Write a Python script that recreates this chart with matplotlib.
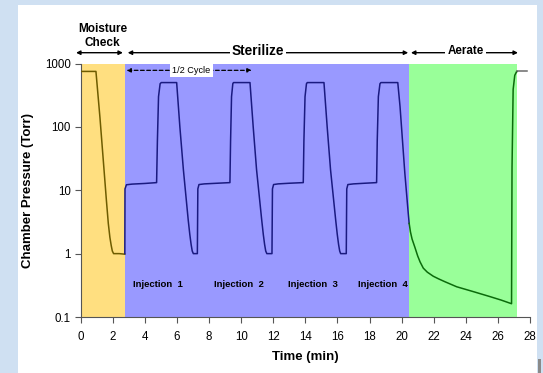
import matplotlib
matplotlib.use("Agg")
import matplotlib.pyplot as plt
from matplotlib.patches import Rectangle
from matplotlib.transforms import blended_transform_factory

plt.rcParams["font.family"] = ["Liberation Sans", "DejaVu Sans"]

moist_t = [0.0, 0.95, 1.2, 1.47, 1.6, 1.72, 1.82, 1.9, 1.97, 2.05, 2.4, 2.75]
moist_p = [750, 750, 140, 18.6, 7.0, 3.0, 1.8, 1.35, 1.1, 1.0, 1.0, 0.98]

steril_t = [2.75, 2.76, 2.85, 3.2, 4.0, 4.73, 4.78, 4.85, 4.95, 5.02, 5.98, 6.18, 6.40, 6.70, 6.80, 6.88, 6.95, 7.02, 7.27,
            7.30, 7.37, 7.7, 8.5, 9.30, 9.34, 9.40, 9.48, 9.52, 10.55, 10.75, 10.96, 11.28, 11.38, 11.46, 11.53, 11.60, 11.92,
            11.95, 12.02, 12.3, 13.0, 13.87, 13.91, 13.98, 14.07, 14.12, 15.16, 15.36, 15.57, 15.89, 15.99, 16.07, 16.14, 16.20, 16.55,
            16.58, 16.65, 17.0, 17.7, 18.44, 18.48, 18.55, 18.65, 18.71, 19.76, 19.90, 20.20, 20.41, 20.47]
steril_p = [1.0, 10.5, 12.2, 12.5, 12.8, 13.2, 60, 300, 480, 500, 500, 100, 21, 3.4, 2.0, 1.4, 1.1, 1.0, 1.0,
            10.5, 12.3, 12.6, 12.9, 13.2, 60, 300, 480, 500, 500, 100, 21, 3.4, 2.0, 1.4, 1.1, 1.0, 1.0,
            10.5, 12.3, 12.6, 12.9, 13.2, 60, 300, 480, 500, 500, 100, 21, 3.4, 2.0, 1.4, 1.1, 1.0, 1.0,
            10.5, 12.3, 12.6, 12.9, 13.2, 60, 300, 480, 500, 500, 210, 18.6, 4.4, 3.0]

aerate_t = [20.47, 20.55, 20.65, 20.83, 21.0, 21.15, 21.35, 21.6, 21.97, 22.3, 22.7, 23.43, 24.5, 25.5, 26.2,
            26.85, 26.86, 26.88, 26.95, 27.05, 27.17, 27.2]
aerate_p = [3.0, 2.2, 1.7, 1.25, 0.92, 0.74, 0.59, 0.51, 0.44, 0.40, 0.36, 0.30, 0.25, 0.21, 0.185,
            0.162, 1.0, 23, 390, 650, 750, 750]

tail_t = [27.2, 27.8]
tail_p = [750, 750]

# phase spans (min)
phase_edges = [0.0, 2.75, 20.47, 27.2]
phase_colors = ["#FFDF80", "#9999FF", "#99FF99"]

injection_x = [4.84, 9.84, 14.47, 18.84]
injection_labels = ["Injection  1", "Injection  2", "Injection  3", "Injection  4"]

fig = plt.figure(figsize=(5.43, 3.73), dpi=100)
fig.patch.set_facecolor("#CFE0F2")
fig.patches.append(Rectangle((18 / 543, 0), 519 / 543, 368 / 373, transform=fig.transFigure,
                             facecolor="white", edgecolor="none", zorder=-10))
fig.patches.append(Rectangle((538 / 543, 0), 3 / 543, 14 / 373, transform=fig.transFigure,
                             facecolor="#8A8A8A", edgecolor="none", zorder=-10))

ax = fig.add_axes([80.7 / 543, 1 - 317 / 373, 449.3 / 543, 253.5 / 373])
ax.set_facecolor("none")

for i, c in enumerate(phase_colors):
    ax.axvspan(phase_edges[i], phase_edges[i + 1], color=c, lw=0, zorder=1)

ax.plot(moist_t, moist_p, color="#6E5C00", lw=1.1, zorder=3)
ax.plot(steril_t, steril_p, color="#1A1A80", lw=1.1, zorder=3)
ax.plot(aerate_t, aerate_p, color="#0B6B0B", lw=1.1, zorder=3)
ax.plot(tail_t, tail_p, color="#6A6A6A", lw=1.1, zorder=3, clip_on=False)

ax.set_yscale("log")
ax.set_ylim(0.1, 1000)
ax.set_xlim(0, 28)
ax.set_xticks(range(0, 29, 2))
ax.set_yticks([0.1, 1, 10, 100, 1000])
ax.set_yticklabels(["0.1", "1", "10", "100", "1000"])
ax.minorticks_off()
ax.tick_params(axis="both", direction="out", length=4, width=0.8, color="#555555", labelsize=8.3, pad=3)
ax.tick_params(axis="x", pad=6)
for s in ("top", "right"):
    ax.spines[s].set_visible(False)
for s in ("left", "bottom"):
    ax.spines[s].set_color("#555555")
    ax.spines[s].set_linewidth(0.8)

ax.set_xlabel("Time (min)", fontsize=9.5, fontweight="bold", labelpad=6)
ax.set_ylabel("Chamber Pressure (Torr)", fontsize=9.5, fontweight="bold", labelpad=8)

for x, lab in zip(injection_x, injection_labels):
    ax.text(x, 0.33, lab, fontsize=6.8, fontweight="bold", ha="center", va="center", zorder=4)

# 1/2 cycle dashed arrow
ax.annotate("", xy=(10.65, 780), xytext=(2.86, 780),
            arrowprops=dict(arrowstyle="<|-|>", lw=0.9, ls=(0, (3, 2)), color="black",
                            shrinkA=0, shrinkB=0, mutation_scale=6), zorder=4)
ax.text(6.9, 780, "1/2 Cycle", fontsize=6.6, ha="center", va="center", zorder=5,
        bbox=dict(facecolor="white", edgecolor="none", pad=1.5))

# phase headers above the axes
trans = blended_transform_factory(ax.transData, ax.transAxes)
y_arrow = 1.0426
for x0, x1 in [(-0.29, 2.63), (2.93, 20.41), (20.58, 27.25)]:
    ax.annotate("", xy=(x1, y_arrow), xytext=(x0, y_arrow), xycoords=trans, textcoords=trans,
                arrowprops=dict(arrowstyle="<|-|>", lw=1.0, color="black",
                                shrinkA=0, shrinkB=0, mutation_scale=6), annotation_clip=False)
ax.text(11.06, 1.05, "Sterilize", transform=trans, fontsize=9.8, fontweight="bold",
        ha="center", va="center", bbox=dict(facecolor="white", edgecolor="none", pad=1.5))
ax.text(23.97, 1.05, "Aerate", transform=trans, fontsize=8.4, fontweight="bold",
        ha="center", va="center", bbox=dict(facecolor="white", edgecolor="none", pad=1.5))
ax.text(1.36, 1.136, "Moisture", transform=trans, fontsize=8.5, fontweight="bold", ha="center", va="center")
ax.text(1.36, 1.081, "Check", transform=trans, fontsize=8.5, fontweight="bold", ha="center", va="center")

fig.savefig("out.png", dpi=100, facecolor=fig.get_facecolor())
